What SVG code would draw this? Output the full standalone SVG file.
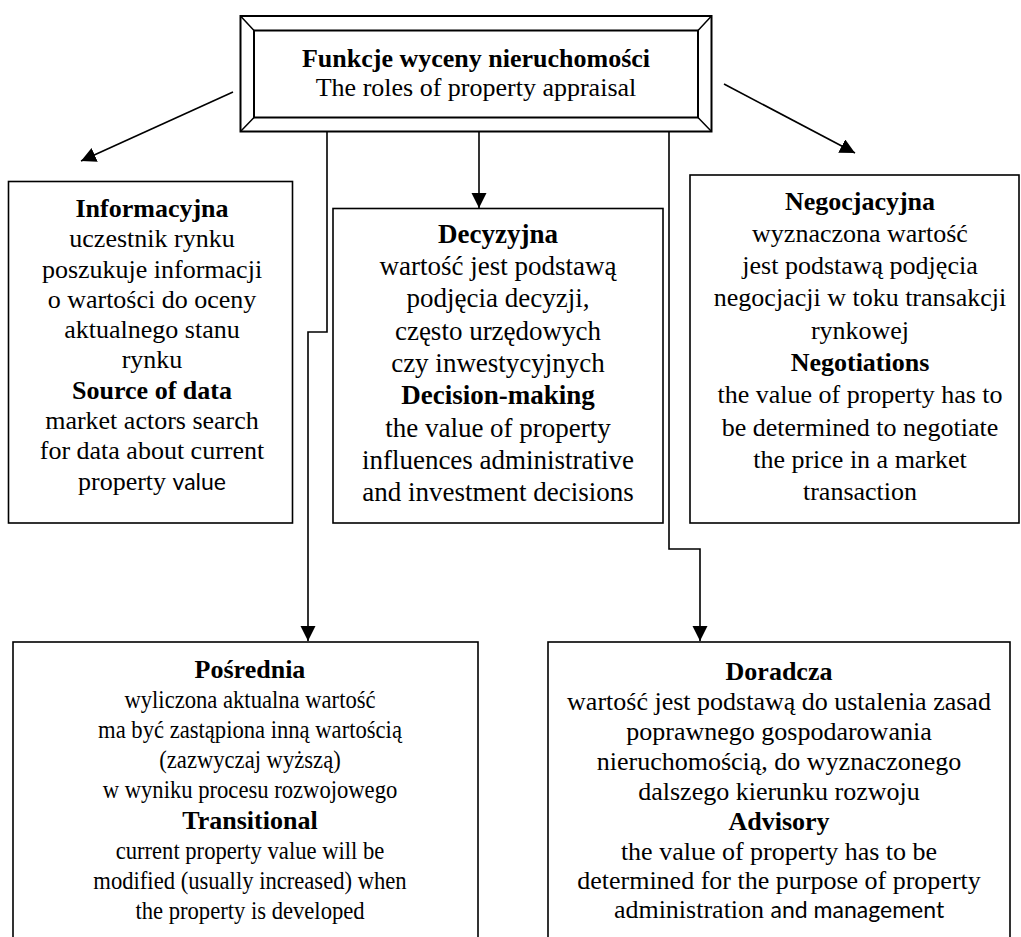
<svg xmlns="http://www.w3.org/2000/svg" width="1021" height="937" viewBox="0 0 1021 937">
<defs>
<style>
.t { font-family: "Liberation Serif", "Times New Roman", serif; font-size: 26px; text-anchor: middle; fill: #000; }
.d { font-size: 27px; }
.b { font-weight: bold; }
.s { font-family: Lato, "Liberation Sans", sans-serif; font-size: 23px; }
.box { fill: #fff; stroke: #000; stroke-width: 1.6; }
.frame { fill: none; stroke: #000; stroke-width: 2; }
.bev { fill: none; stroke: #000; stroke-width: 1.5; }
.con { fill: none; stroke: #000; stroke-width: 1.6; }
</style>
<marker id="arr" markerUnits="userSpaceOnUse" markerWidth="16" markerHeight="16" refX="15" refY="7.5" orient="auto">
<path d="M0,0 L15,7.5 L0,15 z" fill="#000"/>
</marker>
</defs>
<rect width="1021" height="937" fill="#fff"/>

<g id="connectors">
<path class="con" d="M233,92 L81,161" marker-end="url(#arr)"/>
<path class="con" d="M724,84 L855,153" marker-end="url(#arr)"/>
<path class="con" d="M479,132 L479,208" marker-end="url(#arr)"/>
<path class="con" d="M327,132 L327,332 L308,332 L308,641" marker-end="url(#arr)"/>
<path class="con" d="M669,132 L669,549 L700,549 L700,641" marker-end="url(#arr)"/>
</g>

<g id="title">
<rect x="240.5" y="16" width="471" height="115.5" fill="#fff" class="frame"/>
<rect x="254" y="30.5" width="444" height="87" class="frame"/>
<path class="bev" d="M240.5,16 L254,30.5 M711.5,16 L698,30.5 M240.5,131.5 L254,117.5 M711.5,131.5 L698,117.5"/>
<text class="t b" x="476" y="67">Funkcje wyceny nieruchomości</text>
<text class="t" x="476" y="96">The roles of property appraisal</text>
</g>

<g id="informacyjna">
<rect class="box" x="8.5" y="181.5" width="284" height="341.5"/>
<text class="t b" x="152" y="217">Informacyjna</text>
<text class="t" x="152" y="247">uczestnik rynku</text>
<text class="t" x="152" y="278">poszukuje informacji</text>
<text class="t" x="152" y="308">o wartości do oceny</text>
<text class="t" x="152" y="338">aktualnego stanu</text>
<text class="t" x="152" y="368">rynku</text>
<text class="t b" x="152" y="399">Source of data</text>
<text class="t" x="152" y="429">market actors search</text>
<text class="t" x="152" y="459">for data about current</text>
<text class="t" x="152" y="490">property <tspan class="s">value</tspan></text>
</g>

<g id="decyzyjna">
<rect class="box" x="333" y="208.5" width="330" height="314.5"/>
<text class="t d b" x="498" y="243">Decyzyjna</text>
<text class="t d" x="498" y="275">wartość jest podstawą</text>
<text class="t d" x="498" y="307">podjęcia decyzji,</text>
<text class="t d" x="498" y="340">często urzędowych</text>
<text class="t d" x="498" y="372">czy inwestycyjnych</text>
<text class="t d b" x="498" y="404">Decision-making</text>
<text class="t d" x="498" y="437">the value of property</text>
<text class="t d" x="498" y="469">influences administrative</text>
<text class="t d" x="498" y="501">and investment decisions</text>
</g>

<g id="negocjacyjna">
<rect class="box" x="690" y="175" width="329" height="348"/>
<text class="t b" x="860" y="210">Negocjacyjna</text>
<text class="t" x="860" y="242">wyznaczona wartość</text>
<text class="t" x="860" y="274">jest podstawą podjęcia</text>
<text class="t" x="860" y="306">negocjacji w toku transakcji</text>
<text class="t" x="860" y="339">rynkowej</text>
<text class="t b" x="860" y="371">Negotiations</text>
<text class="t" x="860" y="403">the value of property has to</text>
<text class="t" x="860" y="436">be determined to negotiate</text>
<text class="t" x="860" y="468">the price in a market</text>
<text class="t" x="860" y="500">transaction</text>
</g>

<g id="posrednia">
<rect class="box" x="13" y="642" width="465" height="320"/>
<text class="t b" x="250" y="678">Pośrednia</text>
<text class="t b" x="250" y="829">Transitional</text>
<g transform="translate(250 0) scale(0.87 1)">
<text class="t" x="0" y="708">wyliczona aktualna wartość</text>
<text class="t" x="0" y="738">ma być zastąpiona inną wartością</text>
<text class="t" x="0" y="768">(zazwyczaj wyższą)</text>
<text class="t" x="0" y="798">w wyniku procesu rozwojowego</text>
<text class="t" x="0" y="859">current property value will be</text>
<text class="t" x="0" y="889">modified (usually increased) when</text>
<text class="t" x="0" y="919">the property is developed</text>
</g>
</g>

<g id="doradcza">
<rect class="box" x="548" y="642" width="462" height="320"/>
<text class="t b" x="779" y="680">Doradcza</text>
<text class="t" x="779" y="710">wartość jest podstawą do ustalenia zasad</text>
<text class="t" x="779" y="740">poprawnego gospodarowania</text>
<text class="t" x="779" y="770">nieruchomością, do wyznaczonego</text>
<text class="t" x="779" y="800">dalszego kierunku rozwoju</text>
<text class="t b" x="779" y="830">Advisory</text>
<text class="t" x="779" y="860">the value of property has to be</text>
<text class="t" x="779" y="889">determined for the purpose of property</text>
<text class="t" x="779" y="918">administration <tspan class="s">and management</tspan></text>
</g>
</svg>
